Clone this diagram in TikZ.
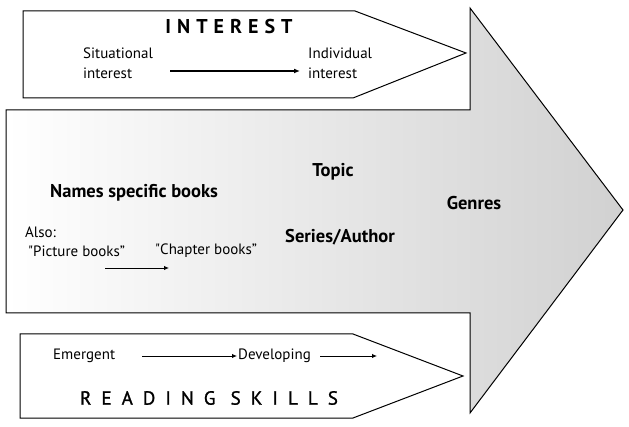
\documentclass[tikz,border=0pt]{standalone}
\usepackage{fontspec}
\setmainfont{PT Sans}
\usetikzlibrary{arrows.meta}
\begin{document}
\begin{tikzpicture}[x=1pt,y=-1pt,
  outline/.style={draw=black, line width=1pt, line join=miter},
  lbl/.style={font=\fontsize{15}{20}\selectfont, inner sep=0pt, anchor=west, align=left},
  bigl/.style={font=\bfseries\fontsize{18.5}{21}\selectfont, inner sep=0pt},
  conn/.style={-{Latex[length=5pt,width=4.5pt]}, line width=0.9pt},
  thickconn/.style={-{Latex[length=6pt,width=5pt]}, line width=1.8pt}]
\useasboundingbox (0,0) rectangle (629,427);
% big arrow
\path[left color=white, right color=black!18]
  (6,110) -- (470,110) -- (470,8) -- (623,210) -- (470,413) -- (470,313) -- (6,313) -- cycle;
\draw[outline]
  (6,110) -- (470,110) -- (470,8) -- (623,210) -- (470,413) -- (470,313) -- (6,313) -- cycle;
% interest box
\draw[outline, fill=white] (23,11) -- (355,11) -- (466,53) -- (353,98) -- (23,98) -- cycle;
% reading box
\draw[outline, fill=white] (20,334) -- (353,334) -- (463,376) -- (353,418) -- (20,418) -- cycle;
% interest texts
\node[inner sep=0pt, font=\bfseries\fontsize{20}{22}\selectfont\addfontfeature{LetterSpace=30}] (interest) at (229,27) {INTEREST};
\node[lbl] (sit) at (83,63) {Situational\\interest};
\node[lbl] (ind) at (308,63) {Individual\\interest};
\coordinate (a1s) at (170,71);
\coordinate (a1e) at (300,71);
\draw[thickconn] (a1s) -- (a1e);
% body texts
\node[bigl, anchor=west] (names) at (50,193) {Names specific books};
\node[lbl] (also) at (25,232) {Also:};
\node[lbl] (pic) at (28,251) {\textquotedbl Picture books”};
\node[lbl] (chap) at (155,251) {\textquotedbl Chapter books”};
\coordinate (a2s) at (105,268);
\coordinate (a2e) at (169,268);
\draw[conn] (a2s) -- (a2e);
\node[bigl] (topic) at (333,172) {Topic};
\node[bigl] (series) at (340,237) {Series/Author};
\node[bigl] (genres) at (474,203) {Genres};
% reading texts
\node[lbl] (emer) at (53,356) {Emergent};
\node[lbl] (dev) at (238,356) {Developing};
\coordinate (a3s) at (142,356);
\coordinate (a3e) at (237,356);
\coordinate (a4s) at (320,356);
\coordinate (a4e) at (377,356);
\draw[conn] (a3s) -- (a3e);
\draw[conn] (a4s) -- (a4e);
\node[inner sep=0pt, font=\fontsize{19}{22}\selectfont\addfontfeature{LetterSpace=53,FakeBold=1.2}] (reading) at (209,398) {READING SKILLS};
\end{tikzpicture}
\end{document}
